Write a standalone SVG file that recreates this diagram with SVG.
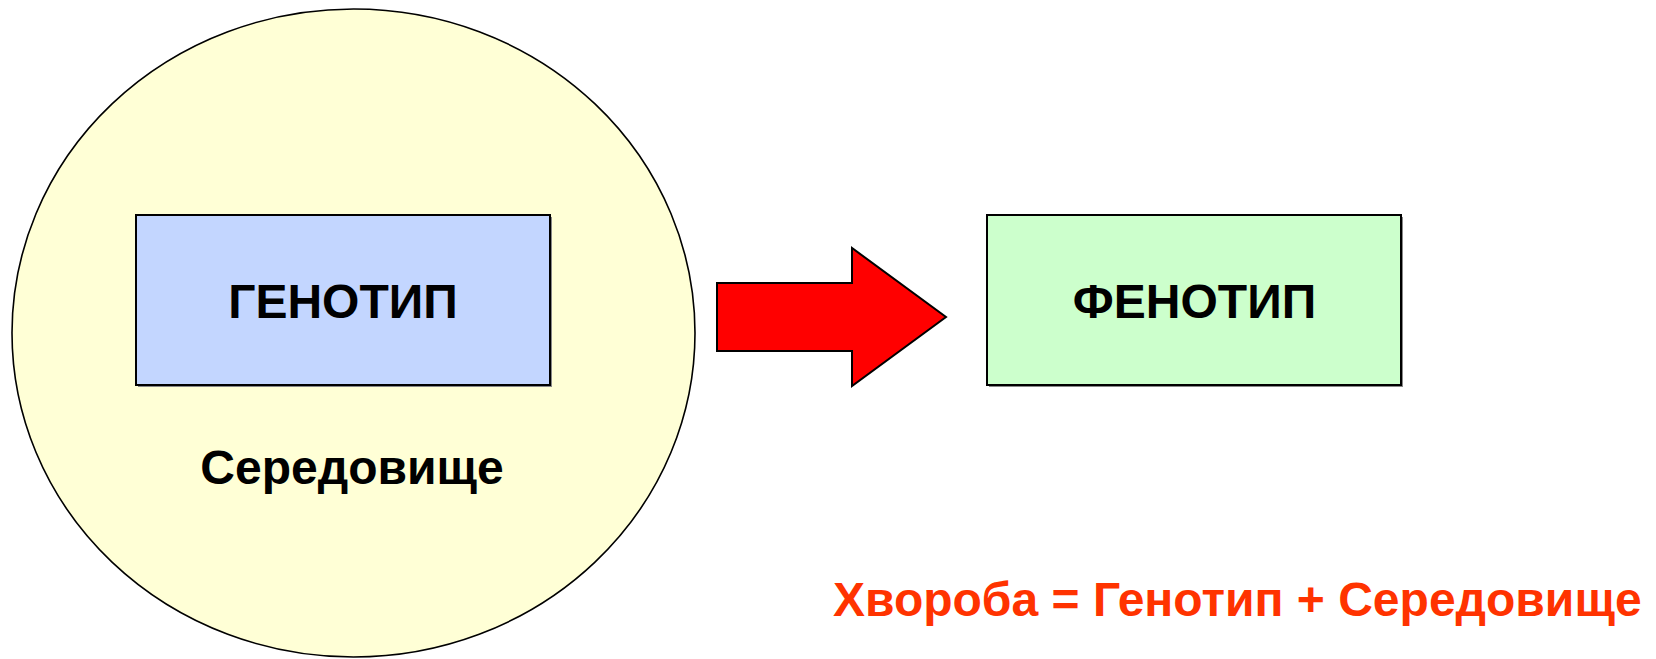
<svg xmlns="http://www.w3.org/2000/svg" width="1656" height="659" viewBox="0 0 1656 659">
<style>
.lbl{font-family:"Liberation Sans",Arial,sans-serif;font-weight:bold;font-size:48px;fill:#000;text-anchor:middle}
.box{stroke:#000;stroke-width:2}
.shadow{fill:#888}
</style>
<rect width="1656" height="659" fill="#fff"/>
<g id="environment">
<ellipse cx="353.5" cy="333" rx="341.5" ry="324" fill="#FFFFD6" stroke="#000" stroke-width="1.6"/>
<text class="lbl" x="352" y="484">Середовище</text>
</g>
<g id="genotype">
<rect class="shadow" x="138" y="217" width="414" height="170"/>
<rect class="box" x="136" y="215" width="414" height="170" fill="#C3D6FF"/>
<text class="lbl" x="343" y="318">ГЕНОТИП</text>
</g>
<g id="connectors">
<polygon points="717,283 852,283 852,248 946,317 852,386 852,351 717,351" fill="#FF0000" stroke="#000" stroke-width="2" stroke-linejoin="miter"/>
</g>
<g id="phenotype">
<rect class="shadow" x="989" y="217" width="414" height="170"/>
<rect class="box" x="987" y="215" width="414" height="170" fill="#CCFFCC"/>
<text class="lbl" x="1194.5" y="318">ФЕНОТИП</text>
</g>
<g id="formula">
<text x="833" y="616" font-family="&quot;Liberation Sans&quot;,Arial,sans-serif" font-weight="bold" font-size="48" fill="#FF3300">Хвороба = Генотип + Середовище</text>
</g>
</svg>
